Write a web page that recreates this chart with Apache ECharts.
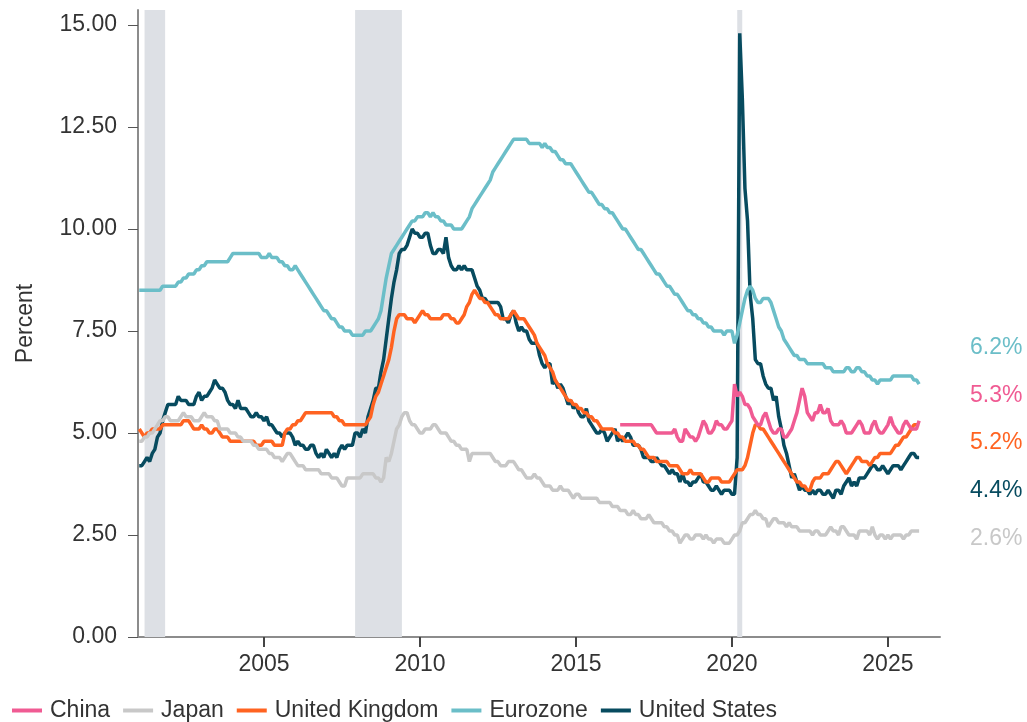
<!DOCTYPE html>
<html>
<head>
<meta charset="utf-8">
<title>Unemployment rates</title>
<script src="https://cdn.jsdelivr.net/npm/echarts@6/dist/echarts.min.js"></script>
<style>
  html, body { margin: 0; padding: 0; background: #fff; }
  #chart { width: 1027px; height: 722px; }
</style>
</head>
<body>
<div id="chart"></div>
<script>
// monthly data, Jan 2001 .. Jan 2026 (China from Jun 2016)
var usStart = [2001, 1];
var unitedStates = [
  4.2,4.2,4.3,4.4,4.3,4.5,4.6,4.9,5.0,5.3,5.5,5.7,
  5.7,5.7,5.7,5.9,5.8,5.8,5.8,5.7,5.7,5.7,5.9,6.0,
  5.8,5.9,5.9,6.0,6.1,6.3,6.2,6.1,6.1,6.0,5.8,5.7,
  5.7,5.6,5.8,5.6,5.6,5.6,5.5,5.4,5.4,5.5,5.4,5.4,
  5.3,5.4,5.2,5.2,5.1,5.0,5.0,4.9,5.0,5.0,5.0,4.9,
  4.7,4.8,4.7,4.7,4.6,4.6,4.7,4.7,4.5,4.4,4.5,4.4,
  4.6,4.5,4.4,4.5,4.4,4.6,4.7,4.6,4.7,4.7,4.7,5.0,
  5.0,4.9,5.1,5.0,5.4,5.6,5.8,6.1,6.1,6.5,6.8,7.3,
  7.8,8.3,8.7,9.0,9.4,9.5,9.5,9.6,9.8,10.0,9.9,9.9,
  9.8,9.8,9.9,9.9,9.6,9.4,9.4,9.5,9.5,9.4,9.8,9.3,
  9.1,9.0,9.0,9.1,9.0,9.1,9.0,9.0,9.0,8.8,8.6,8.5,
  8.3,8.3,8.2,8.2,8.2,8.2,8.2,8.1,7.8,7.8,7.7,7.9,
  8.0,7.7,7.5,7.6,7.5,7.5,7.3,7.2,7.2,7.2,6.9,6.7,
  6.6,6.7,6.7,6.2,6.3,6.1,6.2,6.1,5.9,5.7,5.8,5.6,
  5.7,5.5,5.4,5.4,5.6,5.3,5.2,5.1,5.0,5.0,5.1,5.0,
  4.8,4.9,5.0,5.1,4.8,4.9,4.8,4.9,5.0,4.9,4.7,4.7,
  4.7,4.6,4.4,4.4,4.4,4.3,4.3,4.4,4.3,4.2,4.2,4.1,
  4.0,4.1,4.0,4.0,3.8,4.0,3.8,3.8,3.7,3.8,3.8,3.9,
  4.0,3.8,3.8,3.7,3.6,3.6,3.7,3.6,3.5,3.6,3.6,3.6,
  3.5,3.5,4.4,14.8,13.2,11.0,10.2,8.4,7.8,6.8,6.7,6.7,
  6.4,6.2,6.1,6.1,5.8,5.9,5.4,5.1,4.7,4.5,4.2,3.9,
  4.0,3.8,3.6,3.7,3.6,3.6,3.5,3.6,3.5,3.6,3.6,3.5,
  3.5,3.6,3.5,3.4,3.6,3.6,3.5,3.7,3.8,3.9,3.7,3.8,
  3.7,3.9,3.9,3.9,4.0,4.1,4.2,4.2,4.1,4.1,4.2,4.1,
  4.0,4.1,4.2,4.2,4.2,4.1,4.2,4.3,4.4,4.5,4.5,4.4,
  4.4
];

var eurozone = [
  8.5,8.5,8.5,8.5,8.5,8.5,8.5,8.5,8.5,8.6,8.6,8.6,
  8.6,8.6,8.6,8.7,8.7,8.8,8.8,8.9,8.9,8.9,9.0,9.0,
  9.1,9.1,9.2,9.2,9.2,9.2,9.2,9.2,9.2,9.2,9.2,9.3,
  9.4,9.4,9.4,9.4,9.4,9.4,9.4,9.4,9.4,9.4,9.4,9.3,
  9.3,9.3,9.4,9.3,9.3,9.3,9.2,9.2,9.1,9.1,9.0,9.0,
  9.1,9.0,8.9,8.8,8.7,8.6,8.5,8.4,8.3,8.2,8.1,8.0,
  8.0,7.9,7.8,7.8,7.7,7.6,7.6,7.5,7.5,7.5,7.4,7.4,
  7.4,7.4,7.4,7.5,7.5,7.5,7.6,7.7,7.8,8.0,8.4,8.8,
  9.1,9.4,9.5,9.6,9.7,9.8,9.9,10.0,10.1,10.2,10.2,10.3,
  10.3,10.3,10.4,10.4,10.3,10.4,10.3,10.3,10.2,10.2,10.1,10.1,
  10.1,10.0,10.0,10.0,10.0,10.1,10.2,10.3,10.5,10.6,10.7,10.8,
  10.9,11.0,11.1,11.2,11.4,11.5,11.6,11.7,11.8,11.9,12.0,12.1,
  12.2,12.2,12.2,12.2,12.2,12.2,12.1,12.1,12.1,12.1,12.1,12.0,
  12.1,12.0,12.0,11.9,11.9,11.8,11.7,11.7,11.6,11.6,11.6,11.5,
  11.4,11.3,11.2,11.1,11.0,10.9,10.9,10.8,10.7,10.6,10.6,10.5,
  10.5,10.4,10.4,10.3,10.2,10.1,10.0,10.0,9.9,9.8,9.7,9.6,
  9.5,9.5,9.4,9.3,9.2,9.1,9.0,8.9,8.9,8.8,8.7,8.6,
  8.6,8.5,8.4,8.4,8.3,8.2,8.1,8.0,8.0,7.9,7.9,7.8,
  7.8,7.7,7.7,7.6,7.6,7.5,7.5,7.5,7.5,7.4,7.5,7.5,
  7.5,7.2,7.4,7.7,8.0,8.3,8.5,8.6,8.5,8.3,8.2,8.2,
  8.3,8.3,8.3,8.2,8.0,7.8,7.6,7.5,7.3,7.2,7.1,7.0,
  6.9,6.9,6.8,6.8,6.8,6.7,6.7,6.7,6.7,6.7,6.7,6.7,
  6.6,6.6,6.6,6.5,6.5,6.5,6.5,6.5,6.6,6.6,6.5,6.5,
  6.6,6.6,6.5,6.5,6.4,6.4,6.3,6.3,6.2,6.3,6.3,6.3,
  6.3,6.3,6.4,6.4,6.4,6.4,6.4,6.4,6.4,6.4,6.3,6.3,
  6.2
];

var unitedKingdom = [
  5.1,5.0,4.9,5.0,5.0,5.1,5.1,5.1,5.1,5.2,5.2,5.2,
  5.2,5.2,5.2,5.2,5.2,5.3,5.3,5.3,5.2,5.1,5.1,5.1,
  5.2,5.1,5.1,5.0,5.0,5.1,5.1,5.0,4.9,4.9,4.9,4.8,
  4.8,4.8,4.8,4.8,4.8,4.8,4.8,4.8,4.8,4.7,4.7,4.7,
  4.8,4.8,4.8,4.8,4.7,4.7,4.7,4.7,5.0,5.1,5.1,5.2,
  5.2,5.3,5.3,5.4,5.5,5.5,5.5,5.5,5.5,5.5,5.5,5.5,
  5.5,5.5,5.5,5.4,5.4,5.3,5.3,5.2,5.2,5.2,5.2,5.2,
  5.2,5.2,5.2,5.2,5.3,5.4,5.7,5.9,6.0,6.2,6.4,6.6,
  6.8,7.1,7.5,7.8,7.9,7.9,7.9,7.8,7.8,7.8,7.7,7.8,
  7.9,8.0,7.9,7.9,7.8,7.8,7.8,7.8,7.8,7.9,7.9,7.9,
  7.8,7.8,7.7,7.7,7.8,7.9,8.1,8.2,8.4,8.5,8.4,8.3,
  8.3,8.2,8.2,8.1,8.0,7.9,7.9,7.8,7.8,7.8,7.8,7.9,
  8.0,7.9,7.8,7.8,7.8,7.7,7.6,7.5,7.4,7.2,7.1,7.0,
  6.9,6.7,6.6,6.5,6.3,6.2,6.1,6.0,5.9,5.8,5.8,5.7,
  5.7,5.6,5.6,5.5,5.5,5.4,5.4,5.3,5.3,5.2,5.1,5.1,
  5.1,5.1,5.1,5.0,5.0,4.9,4.9,4.8,4.8,4.8,4.8,4.7,
  4.7,4.6,4.6,4.5,4.4,4.4,4.4,4.3,4.3,4.3,4.3,4.3,
  4.2,4.2,4.2,4.2,4.1,4.0,4.0,4.0,4.1,4.0,4.0,4.0,
  4.0,3.9,3.8,3.8,3.9,3.9,3.9,3.9,3.8,3.8,3.8,3.8,
  3.9,4.0,4.1,4.1,4.1,4.2,4.4,4.7,5.0,5.2,5.2,5.1,
  5.1,5.0,4.9,4.8,4.7,4.6,4.5,4.4,4.3,4.2,4.1,4.0,
  3.9,3.8,3.8,3.7,3.7,3.6,3.6,3.8,3.9,3.9,3.9,4.0,
  4.0,4.0,4.1,4.2,4.3,4.3,4.2,4.1,4.0,4.1,4.2,4.3,
  4.4,4.4,4.3,4.3,4.3,4.2,4.3,4.4,4.4,4.5,4.5,4.5,
  4.5,4.5,4.6,4.7,4.7,4.8,4.9,4.9,5.0,5.1,5.2,5.2,
  5.2
];

var japan = [
  4.8,4.8,4.9,4.9,5.0,5.0,5.1,5.2,5.3,5.3,5.4,5.4,
  5.3,5.3,5.3,5.3,5.4,5.5,5.4,5.4,5.4,5.3,5.3,5.3,
  5.4,5.5,5.4,5.4,5.4,5.3,5.3,5.1,5.1,5.1,5.1,5.0,
  5.0,5.0,4.9,4.9,4.8,4.8,4.8,4.8,4.7,4.7,4.6,4.6,
  4.6,4.6,4.5,4.5,4.4,4.4,4.4,4.3,4.4,4.5,4.5,4.4,
  4.3,4.2,4.2,4.2,4.1,4.1,4.1,4.1,4.1,4.1,4.0,4.0,
  4.0,4.0,3.9,3.9,3.9,3.8,3.7,3.7,3.9,3.9,3.9,3.9,
  3.9,3.9,4.0,4.0,4.0,4.0,4.0,3.9,3.9,3.8,3.9,4.4,
  4.3,4.5,4.8,5.1,5.2,5.4,5.5,5.5,5.3,5.2,5.2,5.1,
  5.0,5.0,5.1,5.1,5.1,5.2,5.2,5.1,5.0,5.0,5.0,4.9,
  4.8,4.8,4.7,4.7,4.6,4.6,4.6,4.3,4.5,4.5,4.5,4.5,
  4.5,4.5,4.5,4.5,4.4,4.3,4.3,4.2,4.2,4.2,4.3,4.3,
  4.3,4.2,4.1,4.1,4.0,3.9,3.9,3.9,4.0,3.9,3.9,3.8,
  3.7,3.7,3.7,3.6,3.6,3.6,3.7,3.6,3.6,3.6,3.5,3.4,
  3.5,3.5,3.4,3.4,3.4,3.4,3.4,3.4,3.4,3.3,3.3,3.3,
  3.3,3.3,3.2,3.2,3.2,3.1,3.1,3.1,3.0,3.0,3.1,3.0,
  3.0,2.9,2.9,2.9,3.0,2.9,2.8,2.8,2.8,2.8,2.7,2.7,
  2.6,2.6,2.5,2.5,2.3,2.4,2.5,2.5,2.4,2.4,2.5,2.5,
  2.5,2.4,2.5,2.4,2.4,2.3,2.4,2.4,2.4,2.3,2.3,2.3,
  2.4,2.5,2.5,2.6,2.8,2.8,2.9,3.0,3.0,3.1,3.0,3.0,
  2.9,2.9,2.7,2.8,2.9,2.9,2.8,2.8,2.8,2.7,2.8,2.7,
  2.7,2.7,2.6,2.6,2.6,2.6,2.6,2.5,2.6,2.6,2.5,2.5,
  2.5,2.6,2.7,2.6,2.6,2.5,2.7,2.7,2.6,2.5,2.5,2.5,
  2.4,2.6,2.6,2.6,2.6,2.5,2.7,2.5,2.4,2.5,2.5,2.4,
  2.5,2.4,2.5,2.5,2.5,2.5,2.4,2.5,2.5,2.6,2.6,2.6,
  2.6
];

// China series starts later
var chinaStart = [2016, 6];
var china = [
  5.2,5.2,5.2,5.2,5.2,5.2,5.2,
  5.2,5.2,5.2,5.2,5.2,5.2,5.1,5.0,5.0,5.0,5.0,5.0,
  5.0,5.0,5.1,4.9,4.8,4.8,5.1,5.0,4.9,4.9,4.8,4.9,
  5.1,5.3,5.2,5.0,5.0,5.1,5.3,5.2,5.2,5.1,5.1,5.2,
  5.3,6.2,5.9,6.0,5.9,5.7,5.7,5.6,5.4,5.3,5.2,5.2,
  5.4,5.5,5.3,5.1,5.0,5.0,5.1,5.1,4.9,4.9,5.0,5.1,
  5.3,5.5,5.8,6.1,5.9,5.5,5.4,5.3,5.5,5.5,5.7,5.5,
  5.5,5.6,5.3,5.2,5.2,5.2,5.3,5.2,5.0,5.0,5.0,5.1,
  5.2,5.3,5.2,5.0,5.0,5.0,5.2,5.3,5.1,5.0,5.0,5.1,
  5.2,5.4,5.2,5.1,5.0,5.0,5.2,5.3,5.2,5.1,5.1,5.1,
  5.3
];

// recession periods (decimal years)
var recessions = [[2001.17, 2001.83], [2007.92, 2009.42], [2020.17, 2020.33]];

var yTicks = [0, 2.5, 5, 7.5, 10, 12.5, 15];
var xTicks = [2005, 2010, 2015, 2020, 2025];

var colors = {
  "China": "#f05b93",
  "Japan": "#c8c8c8",
  "United Kingdom": "#ff6321",
  "Eurozone": "#6bbec8",
  "United States": "#074b5f"
};

var FONT = "'Liberation Sans', Arial, sans-serif";

function toPairs(start, values) {
  return values.map(function(v, i) {
    return [start[0] + (start[1] - 1 + i) / 12, v];
  });
}

function lineSeries(name, start, values) {
  return {
    name: name,
    type: "line",
    data: toPairs(start, values),
    symbol: "none",
    showSymbol: false,
    lineStyle: { width: 3.5, color: colors[name] },
    itemStyle: { color: colors[name] },
    z: 3
  };
}

var seriesList = [
  // shading only
  {
    name: "recession",
    type: "line",
    data: [],
    z: 1,
    silent: true,
    markArea: {
      silent: true,
      itemStyle: { color: "#dde0e5" },
      data: recessions.map(function(r) {
        return [{ xAxis: r[0] }, { xAxis: r[1] }];
      })
    }
  },
  lineSeries("United States", usStart, unitedStates),
  lineSeries("Eurozone", usStart, eurozone),
  lineSeries("United Kingdom", usStart, unitedKingdom),
  lineSeries("Japan", usStart, japan),
  lineSeries("China", chinaStart, china)
];

// latest values shown on the right
var endLabels = [
  ["Eurozone", eurozone],
  ["China", china],
  ["United Kingdom", unitedKingdom],
  ["United States", unitedStates],
  ["Japan", japan]
];
var graphics = endLabels.map(function(item, i) {
  var last = item[1][item[1].length - 1];
  return {
    type: "text",
    left: 970,
    top: 336 + i * 47.7,
    style: {
      text: last.toFixed(1) + "%",
      fill: colors[item[0]],
      font: "23px " + FONT
    }
  };
});

var myChart = echarts.init(document.getElementById("chart"));
myChart.setOption({
  animation: false,
  textStyle: { fontFamily: FONT },
  grid: { left: 138, right: 87, top: 10, bottom: 85 },
  legend: {
    data: ["China", "Japan", "United Kingdom", "Eurozone", "United States"],
    left: 12,
    top: 699,
    padding: 0,
    icon: "rect",
    itemWidth: 30,
    itemHeight: 4,
    itemGap: 13,
    textStyle: { fontSize: 23, color: "#333", fontFamily: FONT, padding: [0, 0, 0, 3] }
  },
  xAxis: {
    type: "value",
    min: 2000.96,
    max: 2026.67,
    splitLine: { show: false },
    axisLine: { lineStyle: { color: "#8c8c8c", width: 2 } },
    axisTick: { customValues: xTicks, length: 10, lineStyle: { color: "#444", width: 2 } },
    axisLabel: {
      customValues: xTicks,
      margin: 16,
      fontSize: 23,
      color: "#333",
      formatter: function(v) { return String(v); }
    }
  },
  yAxis: {
    type: "value",
    min: 0,
    max: 15.37,
    name: "Percent",
    nameLocation: "middle",
    nameRotate: 90,
    nameGap: 101,
    nameTextStyle: { fontSize: 23, color: "#333" },
    splitLine: { show: false },
    axisLine: { show: true, lineStyle: { color: "#8c8c8c", width: 2 } },
    axisTick: { show: true, customValues: yTicks, length: 10, lineStyle: { color: "#555", width: 1 } },
    axisLabel: {
      customValues: yTicks,
      margin: 21,
      fontSize: 23,
      color: "#333",
      formatter: function(v) { return v.toFixed(2); }
    }
  },
  series: seriesList,
  graphic: graphics
});
</script>
</body>
</html>
